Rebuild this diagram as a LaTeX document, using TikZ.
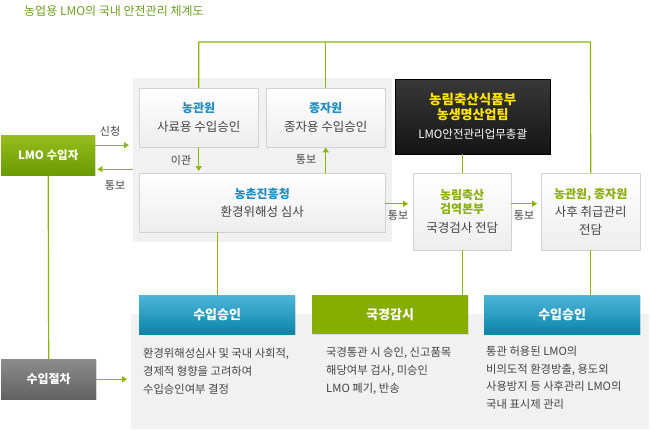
\documentclass[tikz,border=0pt]{standalone}
\usepackage{fontspec}
\setmainfont{Noto Sans CJK KR}
\usetikzlibrary{arrows.meta,shadows}
\definecolor{gline}{HTML}{8DB600}
\definecolor{ttlgreen}{HTML}{6E9F1E}
\definecolor{tblue}{HTML}{1B8DC0}
\definecolor{tgreen}{HTML}{8AAE0A}
\definecolor{txt}{HTML}{444444}
\definecolor{panel}{HTML}{F1F1F1}
\definecolor{bdr}{HTML}{D2D2D2}
\definecolor{gtop}{HTML}{96BE1E}
\definecolor{gbot}{HTML}{6A9A00}
\definecolor{btop}{HTML}{4DB5DA}
\definecolor{bbot}{HTML}{0A84A6}
\definecolor{ytxt}{HTML}{FFE400}
\newcommand{\ttl}[1]{{\fontsize{12}{18}\selectfont\bfseries #1}}
\begin{document}
\begin{tikzpicture}[x=1pt,y=-1pt,
  every node/.style={font=\fontsize{12.5}{18}\selectfont, text=txt, inner sep=0pt},
  panelbox/.style={fill=panel, draw=none, anchor=north west},
  wbox/.style={draw=bdr, top color=white, bottom color=white!93!black, anchor=north west, align=center,
     drop shadow={shadow xshift=1pt, shadow yshift=-1pt, opacity=0.18}},
  darkbox/.style={draw=black, top color=black!78, bottom color=black!92, anchor=north west, align=center,
     drop shadow={shadow xshift=1pt, shadow yshift=-1pt, opacity=0.25}},
  greenbox/.style={top color=gtop, bottom color=gbot, anchor=north west, text=white, font=\fontsize{11.5}{14}\selectfont\bfseries,
     drop shadow={shadow xshift=1pt, shadow yshift=-1pt, opacity=0.2}},
  bluebox/.style={top color=btop, bottom color=bbot, anchor=north west, text=white, font=\fontsize{13}{14}\selectfont\bfseries,
     drop shadow={shadow xshift=1pt, shadow yshift=-1pt, opacity=0.2}},
  olivebox/.style={fill=gline!95!black, anchor=north west, text=white, font=\fontsize{13}{14}\selectfont\bfseries,
     drop shadow={shadow xshift=1pt, shadow yshift=-1pt, opacity=0.2}},
  greybox/.style={top color=black!45, bottom color=black!62, anchor=north west, text=white, font=\fontsize{12}{14}\selectfont\bfseries,
     drop shadow={shadow xshift=1pt, shadow yshift=-1pt, opacity=0.2}},
  gl/.style={draw=gline, line width=1.2pt},
  garrow/.style={gl, -{Triangle[width=6pt,length=5pt]}},
  lbl/.style={font=\fontsize{11}{12}\selectfont, text=txt},
  desc/.style={font=\fontsize{11.3}{18}\selectfont, text=txt, align=left, anchor=north west}
]
\useasboundingbox (0,0) rectangle (650,429);
\fill[white] (0,0) rectangle (650,429);

% title
\node[anchor=west, text=ttlgreen, font=\fontsize{12}{14}\selectfont] (title) at (24,11) {농업용 LMO의 국내 안전관리 체계도};

% panels
\node[panelbox, minimum width=259pt, minimum height=164pt] (panel1) at (133,78) {};
\node[panelbox, minimum width=518pt, minimum height=115pt] (panel2) at (131,314) {};

% boxes
\node[wbox, minimum width=119pt, minimum height=59pt] (nkw) at (139,88)
  {\ttl{\color{tblue}농관원}\\[1pt]사료용 수입승인};
\node[wbox, minimum width=119pt, minimum height=59pt] (jjw) at (266,88)
  {\ttl{\color{tblue}종자원}\\[1pt]종자용 수입승인};
\node[wbox, minimum width=246pt, minimum height=59pt] (nch) at (139,173)
  {\ttl{\color{tblue}농촌진흥청}\\환경위해성 심사};
\node[darkbox, minimum width=155pt, minimum height=75pt, font=\fontsize{11.5}{17}\selectfont] (mafra) at (395,79)
  {{\fontsize{13.5}{17}\selectfont\bfseries\color{ytxt}농림축산식품부}\\[-2pt]{\fontsize{13}{17}\selectfont\bfseries\color{ytxt}농생명산업팀}\\[2pt]{\color{white}LMO안전관리업무총괄}};
\node[wbox, minimum width=98pt, minimum height=77pt, font=\fontsize{12.5}{17}\selectfont] (qia) at (413,173)
  {\ttl{\color{tgreen}농림축산}\\[-3pt]\ttl{\color{tgreen}검역본부}\\[2pt]국경검사 전담};
\node[wbox, minimum width=99pt, minimum height=77pt, font=\fontsize{12.5}{18}\selectfont] (post) at (541,173)
  {\ttl{\color{tgreen}농관원, 종자원}\\사후 취급관리\\전담};
\node[greenbox, minimum width=94pt, minimum height=40pt] (lmo) at (1,135) {LMO 수입자};
\node[greybox, minimum width=95pt, minimum height=40pt] (proc) at (1,359) {수입절차};
\node[bluebox, minimum width=156pt, minimum height=39pt] (imp1) at (139,295) {수입승인};
\node[olivebox, minimum width=156pt, minimum height=39pt] (bor) at (312,295) {국경감시};
\node[bluebox, minimum width=156pt, minimum height=39pt] (imp2) at (484,295) {수입승인};

% descriptions
\node[desc] (d1) at (143,348) {환경위해성심사 및 국내 사회적,\\경제적 형향을 고려하여\\수입승인여부 결정};
\node[desc] (d2) at (326,347) {국경통관 시 승인, 신고품목\\해당여부 검사, 미승인\\LMO 폐기, 반송};
\node[desc, font=\fontsize{11.3}{17.7}\selectfont] (d3) at (486,346) {통관 허용된 LMO의\\비의도적 환경방출, 용도외\\사용방지 등 사후관리 LMO의\\국내 표시제 관리};

% top connector
\coordinate (tl) at (199,42);
\coordinate (tr) at (590.5,42);
\draw[gl] (nkw.north) -- (nkw.north |- tl) -- (tr) -- (post.north);
\draw[gl] (jjw.north) -- (jjw.north |- tl);

% arrows
\coordinate (a1) at ([yshift=10pt]lmo.east);
\coordinate (b1) at ([yshift=-14pt]lmo.east);
\coordinate (a2) at ([yshift=-1pt]nch.east);
\draw[garrow, shorten >=2pt] (nkw.south) -- (nkw.south |- nch.north);
\draw[garrow] (jjw.south |- nch.north) -- (jjw.south);
\draw[garrow, shorten >=4pt] (a1) -- (a1 -| panel1.west);
\draw[garrow, shorten >=2pt] (b1 -| panel1.west) -- (b1);
\draw[garrow, shorten >=5pt] (a2) -- (a2 -| qia.west);
\draw[garrow, shorten >=4pt] (qia.east |- a2) -- (post.west |- a2);
\draw[garrow, shorten >=4pt] (proc.east) -- (panel2.west |- proc.east);

% lines
\draw[gl] (qia.north |- mafra.south) -- (qia.north);
\draw[gl] (qia.south) -- (qia.south |- bor.north);
\draw[gl] (imp1.north |- nch.south) -- (imp1.north);
\draw[gl] (post.south) -- (post.south |- imp2.north);
\draw[gl] (lmo.south) -- (proc.north);

% labels
\node[lbl] (l1) at (110,131) {신청};
\node[lbl] (l2) at (115,186) {통보};
\node[lbl] (l3) at (181,160) {이관};
\node[lbl] (l4) at (306,160) {통보};
\node[lbl] (l5) at (398,216) {통보};
\node[lbl] (l6) at (524,216) {통보};
\end{tikzpicture}
\end{document}
